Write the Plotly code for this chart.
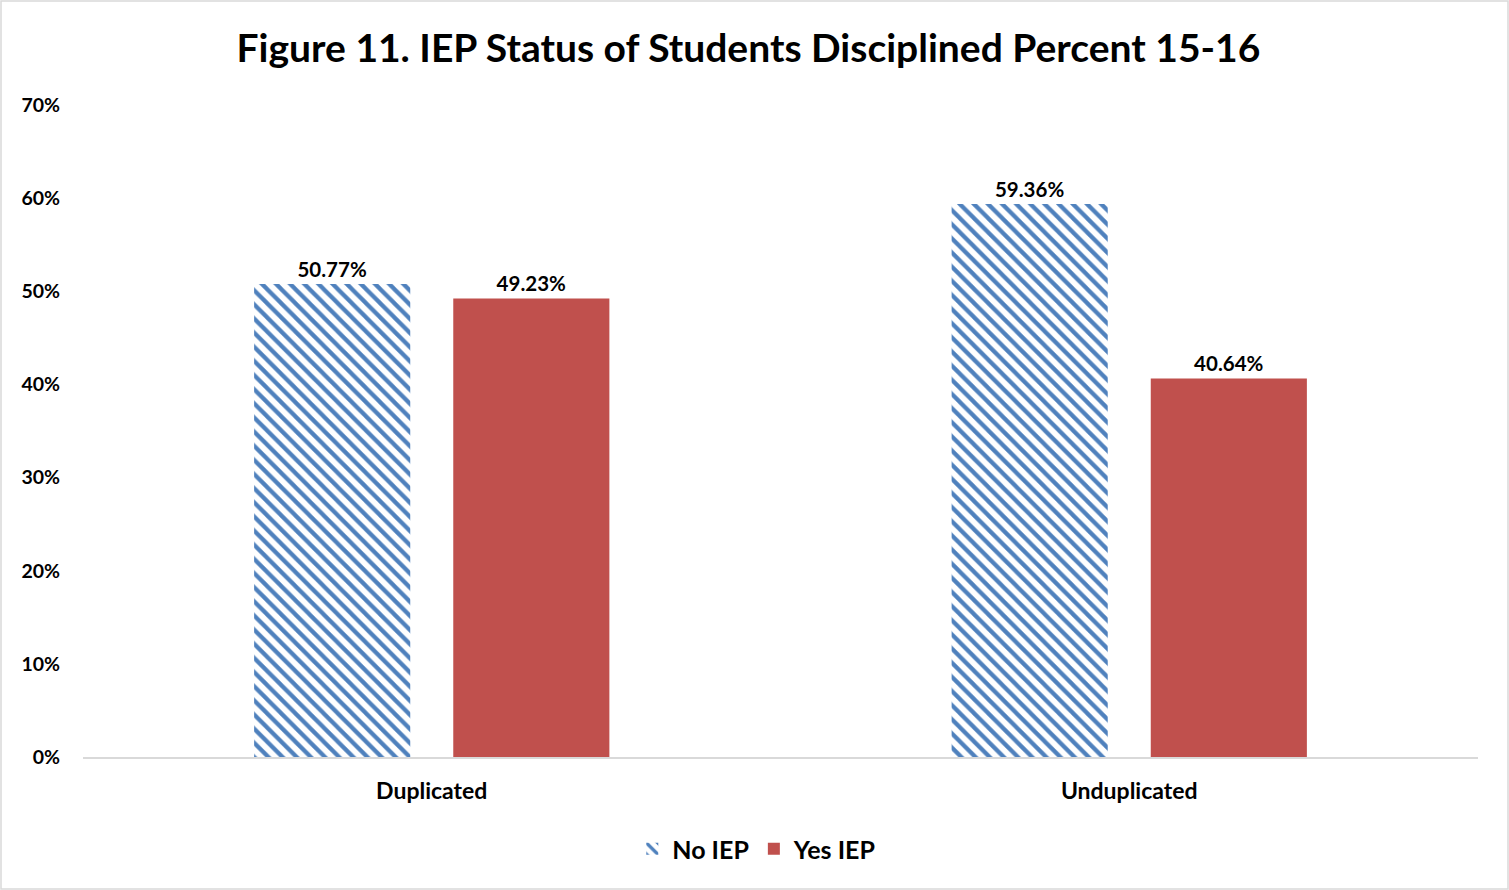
import plotly.graph_objects as go

categories = ["Duplicated", "Unduplicated"]
no_iep = [50.77, 59.36]
yes_iep = [49.23, 40.64]
y_ticks = [0, 10, 20, 30, 40, 50, 60, 70]
y_tick_labels = ["0%", "10%", "20%", "30%", "40%", "50%", "60%", "70%"]

FONT = "Lato"
W, H = 1509, 890
ML, MR, MT, MB = 83, 31, 105, 133
PW, PH = W - ML - MR, H - MT - MB

fig = go.Figure()
fig.add_trace(go.Bar(
    name="<b>No IEP</b>", x=categories, y=no_iep,
    text=[f"<b>{v:.2f}%</b>" for v in no_iep], textposition="outside",
    textfont=dict(family=FONT, size=20.5, color="#000000"),
    marker=dict(color="#4F81BD", line=dict(width=0),
                pattern=dict(shape="\\", fgcolor="#4F81BD", bgcolor="white",
                             size=10, solidity=0.42, fillmode="replace", fgopacity=1)),
    cliponaxis=False,
))
fig.add_trace(go.Bar(
    name="<b>Yes IEP</b>", x=categories, y=yes_iep,
    text=[f"<b>{v:.2f}%</b>" for v in yes_iep], textposition="outside",
    textfont=dict(family=FONT, size=20.5, color="#000000"),
    marker=dict(color="#C0504D", line=dict(width=0)),
    cliponaxis=False,
))

fig.update_layout(
    width=W, height=H,
    margin=dict(l=ML, r=MR, t=MT, b=MB),
    paper_bgcolor="white", plot_bgcolor="white",
    barmode="group", bargap=0.429, bargroupgap=0.216,
    title=dict(text="<b>Figure 11. IEP Status of Students Disciplined Percent 15-16</b>",
               x=0.496, xanchor="center", y=1 - 48 / H, yanchor="middle",
               font=dict(family=FONT, size=39, color="#000000")),
    font=dict(family=FONT, color="#000000"),
    legend=dict(orientation="h", x=0.483, xanchor="center", y=-(849 - 757) / PH,
                yanchor="middle", font=dict(family=FONT, size=25, color="#000000"),
                traceorder="normal", itemwidth=30),
    showlegend=True,
)
fig.update_yaxes(range=[0, 70], tickvals=y_ticks, ticktext=[f"<b>{t}</b>" for t in y_tick_labels],
                 showgrid=False, zeroline=False, showline=False,
                 tickfont=dict(family=FONT, size=19.5, color="#000000"), ticklabelstandoff=22)
fig.update_xaxes(showline=True, linecolor="#D9D9D9", linewidth=2, showgrid=False,
                 ticktext=[f"<b>{c}</b>" for c in categories], tickvals=categories,
                 tickfont=dict(family=FONT, size=23, color="#000000"), ticklabelstandoff=12)

fig.add_shape(type="rect", xref="paper", yref="paper",
              x0=-(ML - 1) / PW, x1=1 + (MR - 1) / PW,
              y0=-(MB - 1) / PH, y1=1 + (MT - 1) / PH,
              line=dict(color="#D9D9D9", width=1.5), fillcolor="rgba(0,0,0,0)", layer="below")

fig.write_html("out.html", config={"displayModeBar": False},
               post_script="document.body.style.margin='0';")
